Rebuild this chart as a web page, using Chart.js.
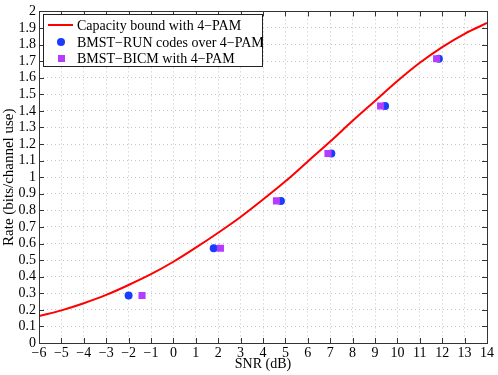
<!DOCTYPE html>
<html>
<head>
<meta charset="utf-8">
<script src="https://cdn.jsdelivr.net/npm/chart.js@4"></script>
<style>
  html, body { margin: 0; padding: 0; background: #fff; }
  #wrap { width: 498px; height: 375px; }
</style>
</head>
<body>
<div id="wrap"><canvas id="chart"></canvas></div>
<script>
// capacity curve at each integer SNR
const snrGrid = [-6, -5, -4, -3, -2, -1, 0, 1, 2, 3, 4, 5, 6, 7, 8, 9, 10, 11, 12, 13, 14];
const capacity = [0.162, 0.197, 0.24, 0.29, 0.35, 0.415, 0.49, 0.575, 0.665, 0.76, 0.865, 0.975, 1.095, 1.215, 1.34, 1.46, 1.58, 1.69, 1.785, 1.865, 1.93];

// BMST-RUN codes over 4-PAM
const runSnr = [-2.0, 1.8, 4.8, 7.05, 9.45, 11.85];
const runRate = [0.286, 0.571, 0.857, 1.143, 1.429, 1.714];

// BMST-BICM with 4-PAM
const bicmSnr = [-1.4, 2.1, 4.6, 6.9, 9.25, 11.75];
const bicmRate = [0.286, 0.571, 0.857, 1.143, 1.429, 1.714];

const seriesLabels = ['Capacity bound with 4\u2212PAM', 'BMST\u2212RUN codes over 4\u2212PAM', 'BMST\u2212BICM with 4\u2212PAM'];

const FONT = 'Liberation Serif, Times New Roman, serif';
const minus = s => String(s).replace('-', '\u2212');

// MATLAB-like box with inward ticks, plus the legend inside the plot
const boxPlugin = {
    id: 'box',
    afterDraw(chart) {
        const { ctx, chartArea: { left, right, top, bottom }, scales: { x, y } } = chart;
        ctx.save();
        ctx.strokeStyle = '#333';
        ctx.lineWidth = 1;
        ctx.beginPath();
        x.ticks.forEach(t => {
            const px = Math.round(x.getPixelForValue(t.value)) + 0.5;
            ctx.moveTo(px, bottom); ctx.lineTo(px, bottom - 5);
            ctx.moveTo(px, top); ctx.lineTo(px, top + 5);
        });
        y.ticks.forEach(t => {
            const py = Math.round(y.getPixelForValue(t.value)) + 0.5;
            ctx.moveTo(left, py); ctx.lineTo(left + 5, py);
            ctx.moveTo(right, py); ctx.lineTo(right - 5, py);
        });
        ctx.stroke();
        ctx.strokeRect(Math.round(left) + 0.5, Math.round(top) + 0.5, Math.round(right - left), Math.round(bottom - top));

        // legend
        const lx = 43.5, ly = 14.5, lw = 219, lh = 52;
        ctx.fillStyle = '#fff';
        ctx.fillRect(lx, ly, lw, lh);
        ctx.strokeStyle = '#222';
        ctx.strokeRect(lx, ly, lw, lh);
        ctx.font = '14px ' + FONT;
        ctx.textBaseline = 'middle';
        const rows = [25, 42, 58];
        ctx.strokeStyle = '#ff0000';
        ctx.lineWidth = 2;
        ctx.beginPath(); ctx.moveTo(48, rows[0]); ctx.lineTo(73, rows[0]); ctx.stroke();
        ctx.fillStyle = '#1a3cff';
        ctx.beginPath(); ctx.arc(61, rows[1], 4, 0, Math.PI * 2); ctx.fill();
        ctx.fillStyle = '#b43cff';
        ctx.fillRect(58, rows[2] - 3, 7, 7);
        ctx.fillStyle = '#000';
        seriesLabels.forEach((s, i) => ctx.fillText(s, 77, rows[i] + 1));
        ctx.restore();
    }
};

new Chart(document.getElementById('chart'), {
    type: 'scatter',
    data: {
        datasets: [{
            type: 'line',
            label: seriesLabels[0],
            data: snrGrid.map((v, i) => ({ x: v, y: capacity[i] })),
            borderColor: '#ff0000',
            borderWidth: 2,
            pointRadius: 0,
            cubicInterpolationMode: 'monotone',
            fill: false,
            order: 2
        }, {
            label: seriesLabels[1],
            data: runSnr.map((v, i) => ({ x: v, y: runRate[i] })),
            backgroundColor: '#1a3cff',
            borderWidth: 0,
            pointRadius: 4,
            order: 1
        }, {
            label: seriesLabels[2],
            data: bicmSnr.map((v, i) => ({ x: v, y: bicmRate[i] })),
            backgroundColor: '#b43cff',
            borderWidth: 0,
            pointStyle: 'rect',
            pointRadius: 5,
            order: 0
        }]
    },
    options: {
        responsive: true,
        maintainAspectRatio: false,
        animation: false,
        layout: { padding: { top: 10, right: 11, left: 0, bottom: 0 } },
        plugins: { legend: { display: false }, tooltip: { enabled: false } },
        scales: {
            x: {
                type: 'linear',
                min: -6, max: 14,
                ticks: { stepSize: 1, color: '#000', font: { family: FONT, size: 14 }, padding: 2, maxRotation: 0, autoSkip: false, callback: v => minus(v) },
                grid: { color: '#c4c4c4', drawTicks: false },
                border: { display: false, dash: [1, 3] },
                title: { display: true, text: 'SNR (dB)', color: '#000', font: { family: FONT, size: 14 }, padding: { top: 0, bottom: 2 } },
                afterFit: s => { s.height = 32; }
            },
            y: {
                min: 0, max: 2,
                ticks: { stepSize: 0.1, color: '#000', font: { family: FONT, size: 14 }, padding: 3, autoSkip: false, callback: v => String(Number(v.toFixed(1))) },
                grid: { color: '#c4c4c4', drawTicks: false },
                border: { display: false, dash: [1, 3] },
                title: { display: true, text: 'Rate (bits/channel use)', color: '#000', font: { family: FONT, size: 15 }, padding: { top: 0, bottom: 1 } },
                afterFit: s => { s.width = 39; }
            }
        }
    },
    plugins: [boxPlugin]
});
</script>
</body>
</html>
